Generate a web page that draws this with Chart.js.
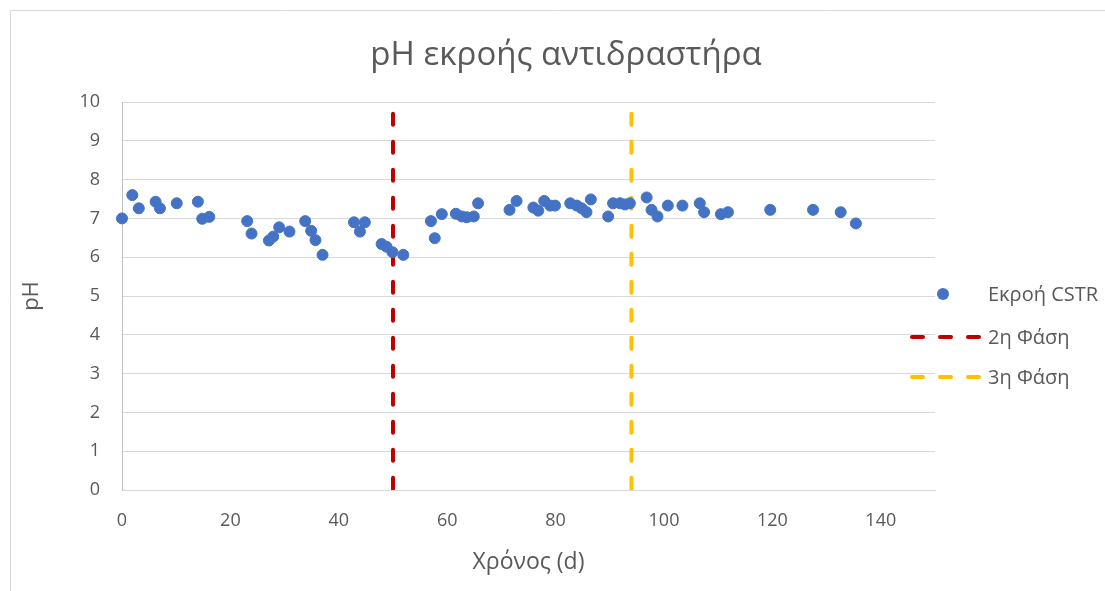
<!DOCTYPE html>
<html>
<head>
<meta charset="utf-8">
<script src="https://cdn.jsdelivr.net/npm/chart.js@4/dist/chart.umd.min.js"></script>
<style>
  html, body { margin: 0; padding: 0; background: #ffffff; }
  #wrap { position: relative; width: 1105px; height: 591px; }
</style>
</head>
<body>
<div id="wrap"><canvas id="chart" width="1105" height="591"></canvas></div>
<script>
// Reactor effluent pH over time (days)
const days = [0, 1.9, 3.1, 6.2, 7.0, 10.1, 14.0, 14.8, 16.1, 23.1, 23.9, 27.1, 27.9, 29.0, 30.9,
  33.8, 34.9, 35.7, 37.0, 42.8, 43.9, 44.8, 47.9, 48.8, 49.9, 51.9, 57.0, 57.7, 59.0, 61.6,
  62.7, 63.6, 64.9, 65.7, 71.5, 72.8, 75.9, 76.8, 77.9, 79.0, 79.9, 82.7, 83.9, 84.8, 85.7,
  86.5, 89.7, 90.6, 91.9, 92.8, 93.7, 96.8, 97.7, 98.8, 100.7, 103.4, 106.6, 107.4, 110.5,
  111.8, 119.6, 127.5, 132.6, 135.4];
const phValues = [7.0, 7.6, 7.26, 7.43, 7.26, 7.39, 7.43, 6.99, 7.04, 6.93, 6.61, 6.43, 6.53, 6.77, 6.66,
  6.93, 6.68, 6.44, 6.06, 6.90, 6.66, 6.90, 6.34, 6.27, 6.13, 6.06, 6.93, 6.49, 7.11, 7.12,
  7.05, 7.03, 7.05, 7.39, 7.22, 7.45, 7.28, 7.20, 7.45, 7.33, 7.33, 7.39, 7.33, 7.26, 7.16,
  7.49, 7.05, 7.39, 7.39, 7.36, 7.39, 7.54, 7.22, 7.05, 7.33, 7.33, 7.39, 7.16, 7.11,
  7.16, 7.22, 7.22, 7.16, 6.87];

// Phase boundaries (day) and the vertical span they cover
const phaseDays = [50, 94];
const phaseSpan = [0, 10];

// Text
const chartTitle = 'pH εκροής αντιδραστήρα';
const seriesNames = ['Εκροή CSTR', '2η Φάση', '3η Φάση'];
const xTitle = 'Χρόνος (d)';
const yTitle = 'pH';

// Axis ranges
const xRange = [0, 150, 20];
const yRange = [0, 10, 1];

const COLORS = { points: '#4472C4', phase2: '#C00000', phase3: '#FFC000', text: '#595959', grid: '#D9D9D9' };
const FONT = "'Open Sans', 'Noto Sans', sans-serif";
const DASH = [11, 17];
const DASH_OFFSET = 16.3;

const scatterData = days.map((d, i) => ({ x: d, y: phValues[i] }));
const phaseLine = (day) => [{ x: day, y: phaseSpan[1] }, { x: day, y: phaseSpan[0] }];

const extras = {
  id: 'extras',
  afterDraw(chart) {
    const ctx = chart.ctx;
    ctx.save();
    // outer frame
    ctx.strokeStyle = COLORS.grid;
    ctx.lineWidth = 1;
    ctx.beginPath();
    ctx.moveTo(10.5, 591);
    ctx.lineTo(10.5, 10.5);
    ctx.lineTo(1105, 10.5);
    ctx.stroke();

    // title
    ctx.fillStyle = COLORS.text;
    ctx.font = '400 33px ' + FONT;
    ctx.textAlign = 'center';
    ctx.textBaseline = 'middle';
    ctx.fillText(chartTitle, 566, 56);

    // legend
    ctx.font = '20px ' + FONT;
    ctx.textAlign = 'left';
    const textX = 988;
    const rows = [294, 337, 377];
    ctx.fillStyle = COLORS.points;
    ctx.beginPath();
    ctx.arc(943, rows[0], 6, 0, Math.PI * 2);
    ctx.fill();
    [COLORS.phase2, COLORS.phase3].forEach((c, i) => {
      ctx.strokeStyle = c;
      ctx.lineWidth = 4;
      ctx.lineCap = 'round';
      ctx.setLineDash(DASH);
      ctx.lineDashOffset = 0;
      ctx.beginPath();
      ctx.moveTo(912, rows[i + 1]);
      ctx.lineTo(980, rows[i + 1]);
      ctx.stroke();
    });
    ctx.setLineDash([]);
    ctx.fillStyle = COLORS.text;
    seriesNames.forEach((n, i) => ctx.fillText(n, textX, rows[i] + 1));
    ctx.restore();
  }
};

new Chart(document.getElementById('chart'), {
  type: 'scatter',
  data: {
    datasets: [
      {
        label: seriesNames[0],
        data: scatterData,
        backgroundColor: COLORS.points,
        borderColor: COLORS.points,
        pointRadius: 5.5,
        pointBorderWidth: 1,
        clip: false,
        order: 0
      },
      {
        label: seriesNames[1],
        type: 'line',
        data: phaseLine(phaseDays[0]),
        borderColor: COLORS.phase2,
        borderWidth: 4,
        borderDash: DASH,
        borderDashOffset: DASH_OFFSET,
        borderCapStyle: 'round',
        pointRadius: 0,
        fill: false,
        order: 1
      },
      {
        label: seriesNames[2],
        type: 'line',
        data: phaseLine(phaseDays[1]),
        borderColor: COLORS.phase3,
        borderWidth: 4,
        borderDash: DASH,
        borderDashOffset: DASH_OFFSET,
        borderCapStyle: 'round',
        pointRadius: 0,
        fill: false,
        order: 2
      }
    ]
  },
  options: {
    responsive: false,
    animation: false,
    layout: { padding: { left: 0, top: 102, right: 1105 - 935, bottom: 0 } },
    plugins: {
      legend: { display: false },
      title: { display: false },
      tooltip: { enabled: false }
    },
    scales: {
      x: {
        type: 'linear',
        min: xRange[0],
        max: xRange[1],
        afterFit(scale) { scale.height = 101; },
        ticks: {
          stepSize: xRange[2],
          includeBounds: false,
          color: COLORS.text,
          font: { family: FONT, size: 18 },
          padding: 20,
          maxRotation: 0
        },
        grid: { display: false, drawTicks: false },
        border: { display: true, color: COLORS.grid, width: 1 },
        title: {
          display: true,
          text: xTitle,
          color: COLORS.text,
          font: { family: FONT, size: 23 },
          padding: { top: 0, bottom: 15 }
        }
      },
      y: {
        type: 'linear',
        min: yRange[0],
        max: yRange[1],
        afterFit(scale) { scale.width = 122; },
        ticks: {
          stepSize: yRange[2],
          color: COLORS.text,
          font: { family: FONT, size: 18 },
          padding: 22
        },
        grid: { color: COLORS.grid, lineWidth: 1, drawTicks: false },
        border: { display: true, color: '#BFBFBF', width: 1 },
        title: {
          display: true,
          text: yTitle,
          color: COLORS.text,
          font: { family: FONT, size: 22 },
          padding: { top: 19, bottom: 0 }
        }
      }
    }
  },
  plugins: [extras]
});
</script>
</body>
</html>
